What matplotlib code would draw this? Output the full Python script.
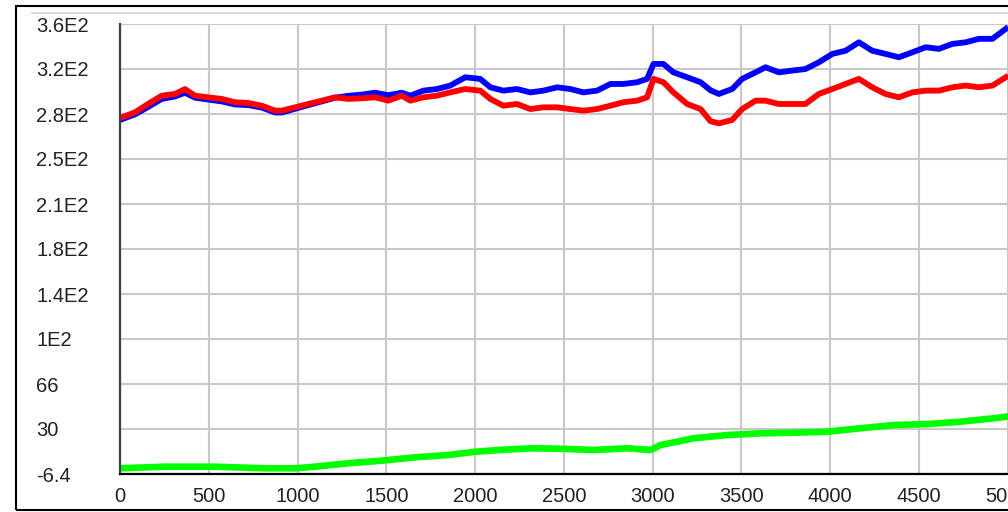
import numpy as np
import matplotlib
matplotlib.use("Agg")
import matplotlib.pyplot as plt
from matplotlib.patches import Rectangle
from matplotlib.lines import Line2D

# values
red_x = [0, 85, 158, 235, 310, 366, 423, 496, 573, 648, 722, 799, 874, 911, 986,
         1060, 1137, 1212, 1285, 1362, 1437, 1511, 1588, 1635, 1709, 1785, 1860,
         1945, 2029, 2086, 2159, 2236, 2311, 2385, 2462, 2537, 2610, 2687, 2762,
         2835, 2913, 2969, 3005, 3061, 3117, 3195, 3270, 3326, 3373, 3448, 3504,
         3580, 3636, 3711, 3786, 3861, 3936, 4012, 4087, 4162, 4237, 4312, 4387,
         4463, 4538, 4613, 4688, 4763, 4838, 4914, 4989]
red_y = [281.6, 286.2, 292.9, 299.6, 301, 305, 299.6, 298.3, 297, 294.3, 293.7,
         291.5, 287.5, 287.5, 290.2, 292.9, 295.6, 298.3, 297, 297.5, 298.3, 295.6,
         299.6, 295.6, 298.3, 299.6, 302.3, 305, 303.7, 297, 291.5, 292.9, 288.8,
         290.2, 290.2, 288.8, 287.5, 288.8, 291.5, 294.3, 295.6, 298.3, 313.2,
         310.5, 302.3, 292.9, 288.8, 279, 277.2, 280, 288.8, 295.6, 295.6, 292.9,
         292.9, 292.9, 301, 305, 309.1, 313.2, 306.4, 301, 298.3, 302.3, 303.7,
         303.7, 306.4, 307.8, 306.4, 307.8, 314.5]

blue_x = red_x
blue_y = [280, 284.5, 290.5, 297, 299, 302, 298, 296.5, 295, 292.5, 292, 290, 286,
          286, 289, 292, 295, 298, 299.5, 300.5, 302, 300, 302, 299.6, 303.7, 305,
          307.8, 314.5, 313.2, 306.4, 303.7, 305, 302.3, 303.7, 306.4, 305, 302.3,
          303.7, 309.1, 309.1, 310.5, 313.2, 325.3, 325.3, 318.5, 314.5, 310.5,
          304, 301, 305, 313.2, 318.5, 322.6, 318.5, 319.9, 321.2, 326.6, 333.4,
          336, 342.8, 336, 333.4, 330.7, 334.7, 338.8, 337.5, 341.5, 342.8, 345.6,
          345.6, 353.7]

green_x = [0, 254, 536, 817, 986, 1099, 1287, 1475, 1663, 1851, 2001, 2133, 2321,
           2490, 2668, 2856, 2988, 3044, 3232, 3420, 3608, 3795, 3984, 4171, 4359,
           4547, 4735, 4923, 4994]
green_y = [-1.8, -0.5, -0.5, -1.8, -1.8, -0.5, 2.3, 4.4, 7.1, 9, 11.6, 13, 14.4,
           14, 13, 14.4, 13, 17, 22.5, 25.1, 26.5, 27, 27.8, 30.6, 33.2, 34, 35.9,
           38.7, 40]

y_ticks = [-6.4 + 36.4 * i for i in range(11)]
y_labels = ["-6.4", "30", "66", "1E2", "1.4E2", "1.8E2", "2.1E2", "2.5E2",
            "2.8E2", "3.2E2", "3.6E2"]
x_ticks = list(range(0, 5001, 500))

W, H = 1008, 512
fig = plt.figure(figsize=(W / 100, H / 100), dpi=100)
ax = fig.add_axes([120 / W, 1 - 474 / H, 887.7 / W, 450 / H])

ax.plot(blue_x, blue_y, color="#0000ff", lw=4.2)
ax.plot(red_x, red_y, color="#ff0000", lw=4.2)
ax.plot(green_x, green_y, color="#00ff00", lw=4.8)

ax.set_xlim(0, 5000)
ax.set_ylim(-6.4, 357.6)
ax.set_xticks(x_ticks)
ax.set_yticks(y_ticks, y_labels)
ax.grid(True, color="#c8c8c8", lw=1.5)
ax.set_axisbelow(True)

for s in ["top", "right"]:
    ax.spines[s].set_visible(False)
ax.spines["left"].set_color("#404040")
ax.spines["left"].set_linewidth(1.6)
ax.spines["bottom"].set_color("black")
ax.spines["bottom"].set_linewidth(1.6)

ax.tick_params(axis="y", length=0, pad=84 * 0.72, labelsize=14.5, labelcolor="#222222")
ax.tick_params(axis="x", length=0, pad=9.5, labelsize=14.5, labelcolor="#222222")
for lbl in ax.get_yticklabels():
    lbl.set_horizontalalignment("left")
    lbl.set_fontfamily("Liberation Sans")
for lbl in ax.get_xticklabels():
    lbl.set_fontfamily("Liberation Sans")

# outer frame and thin top rule
fig.patches.append(Rectangle((16 / W, 1 - 510 / H), 1.2, 504 / H, transform=fig.transFigure,
                             fill=False, edgecolor="black", lw=1.5))
fig.lines.append(Line2D([32 / W, 1], [1 - 12.7 / H, 1 - 12.7 / H], transform=fig.transFigure,
                        color="#d4d0c8", lw=1.2))

fig.savefig("out.png", dpi=100)
